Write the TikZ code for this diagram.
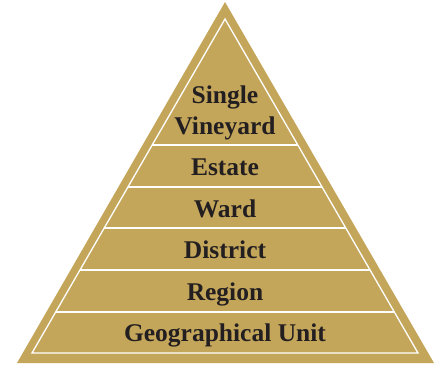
\documentclass[tikz,border=0pt]{standalone}
\usepackage{fontspec}
\setmainfont{Liberation Serif}
\usetikzlibrary{calc}
\definecolor{gold}{HTML}{C4A65B}
\definecolor{ink}{HTML}{231F20}

\begin{document}
\begin{tikzpicture}[x=1pt,y=1pt,
    tier/.style={font=\bfseries\fontsize{25.5}{30}\selectfont, text=ink, align=center, anchor=base},
    divider/.style={white, line width=1.3pt}]
    \useasboundingbox (0,0) rectangle (441,365);
    % Outer pyramid
    \coordinate (top) at (225,363);
    \coordinate (left) at (17,2);
    \coordinate (right) at (434,2);
    \fill[gold] (left) -- (top) -- (right) -- cycle;

    % Inner outline
    \coordinate (apex) at (225,346);
    \coordinate (bl) at (32,12);
    \coordinate (br) at (418,12);
    \draw[divider, line join=miter] (bl) -- (apex) -- (br) -- cycle;

    % Dividers between the tiers
    \foreach \h in {53,95,137,178,220} {
        \draw[divider] ($(bl)!{(\h-12)/334}!(apex)$) -- ($(br)!{(\h-12)/334}!(apex)$);
    }

    % Tier labels
    \node[tier] (single) at (225,262) {Single};
    \node[tier] (vineyard) at (225,231) {Vineyard};
    \node[tier] (estate) at (225,190) {Estate};
    \node[tier] (ward) at (225,148) {Ward};
    \node[tier] (district) at (225,107) {District};
    \node[tier] (region) at (225,65) {Region};
    \node[tier] (geo) at (225,24) {Geographical Unit};
\end{tikzpicture}
\end{document}
